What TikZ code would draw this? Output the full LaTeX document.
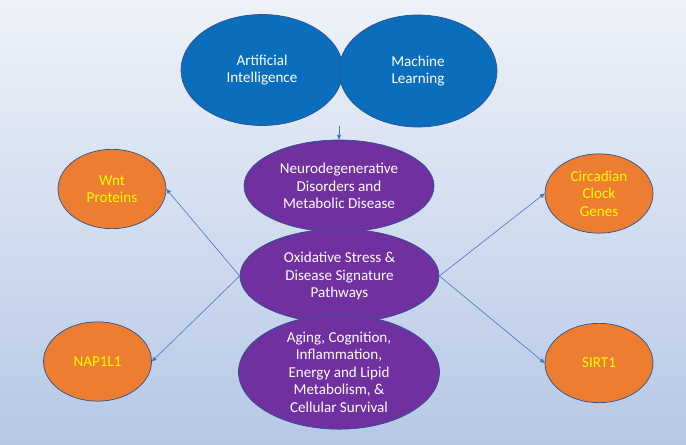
\documentclass[tikz,border=0pt]{standalone}
\usepackage{fontspec}
\setmainfont{Carlito}
\usetikzlibrary{shapes.geometric,arrows.meta}

\definecolor{bgtop}{HTML}{EEF2F9}
\definecolor{bgmid}{HTML}{C6D4EC}
\definecolor{bgbot}{HTML}{B6C8E6}
\definecolor{aiblue}{HTML}{0A6EBD}
\definecolor{hubpurple}{HTML}{7030A0}
\definecolor{geneorange}{HTML}{ED7D31}
\definecolor{geneyellow}{HTML}{FFFF00}
\definecolor{edge}{HTML}{2F528F}
\definecolor{linkblue}{HTML}{4472C4}

\begin{document}
\begin{tikzpicture}[x=0.03cm,y=-0.03cm,
    blob/.style={ellipse,draw=edge,line width=0.6pt,inner sep=0pt,align=center,
      font=\fontsize{12.9}{15}\selectfont},
    aiblob/.style={blob,fill=aiblue,text=white},
    hubblob/.style={blob,fill=hubpurple,text=white},
    geneblob/.style={blob,fill=geneorange,text=geneyellow,
      minimum width=3.24cm,minimum height=2.38cm},
    link/.style={draw=linkblue,line width=0.5pt,-{Triangle[length=4pt,width=3.5pt]}}]

    % background
    \fill[top color=bgtop,middle color=bgmid,bottom color=bgbot] (0,0) rectangle (686,445);
    \useasboundingbox (0,0) rectangle (686,445);

    % top pair
    \node[aiblob,minimum width=4.86cm,minimum height=3.33cm] (ai) at (262,70) {Artificial\\Intelligence};
    \node[aiblob,minimum width=4.74cm,minimum height=3.36cm] (ml) at (418,71) {Machine\\Learning};
    \coordinate (join) at (339,126);

    % central stack
    \node[hubblob,minimum width=5.70cm,minimum height=2.76cm] (neuro) at (339,186)
        {Neurodegenerative\\Disorders and\\Metabolic Disease};
    \node[hubblob,minimum width=5.97cm,minimum height=2.82cm] (oxid) at (339.5,276)
        {Oxidative Stress \&\\Disease Signature\\Pathways};
    \node[hubblob,minimum width=6.03cm,minimum height=3.33cm] (aging) at (339,372)
        {Aging, Cognition,\\Inflammation,\\Energy and Lipid\\Metabolism, \&\\Cellular Survival};

    % genes
    \node[geneblob] (wnt) at (112,189) {Wnt\\Proteins};
    \node[geneblob] (nap) at (97.5,361.5) {NAP1L1};
    \node[geneblob] (clock) at (599,193.5) {Circadian\\Clock\\Genes};
    \node[geneblob] (sirt) at (599,363) {SIRT1};

    % links
    \draw[link] (join) -- (neuro.north);
    \foreach \g in {wnt,nap}
        \draw[link] (oxid.west) -- (\g.east);
    \foreach \g in {clock,sirt}
        \draw[link] (oxid.east) -- (\g.west);
\end{tikzpicture}
\end{document}
